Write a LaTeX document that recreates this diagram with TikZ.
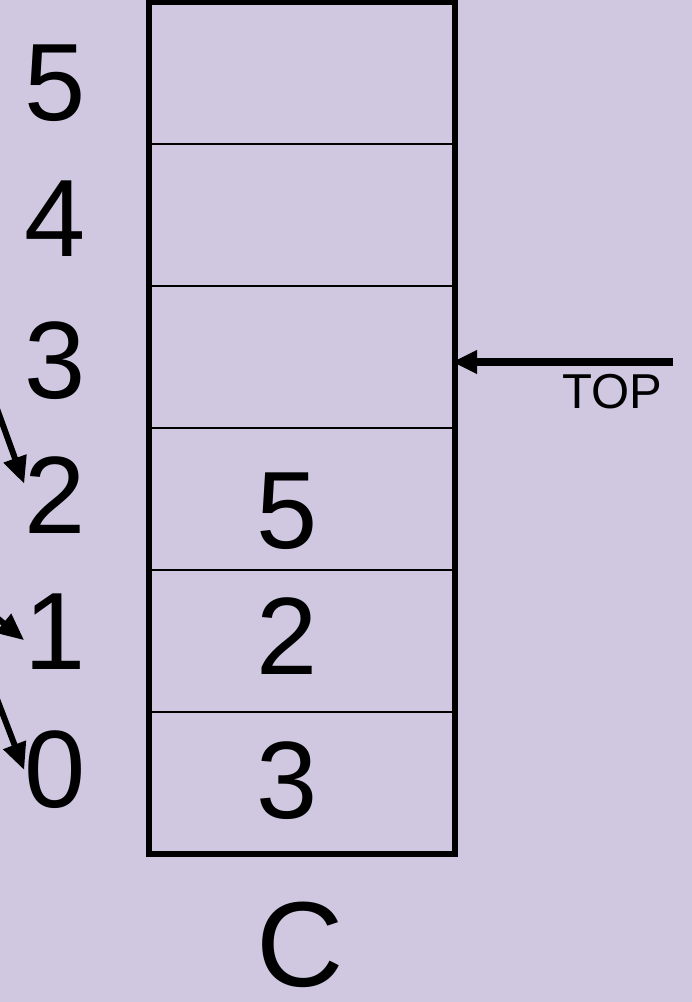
\documentclass[tikz,border=0pt]{standalone}
\usepackage{fontspec}
\setmainfont{Liberation Sans}
\usetikzlibrary{arrows.meta}
\usetikzlibrary{positioning}
\definecolor{slidebg}{RGB}{207,200,224}

\tikzset{
	cell/.style={draw, line width=2pt, minimum width=306pt, minimum height=142pt, inner sep=0pt, outer sep=0pt},
	bignum/.style={inner sep=0pt, font=\fontsize{110}{110}\selectfont},
	pointer/.style={line width=6pt, -{Triangle[length=27pt,width=23pt]}},
}

\begin{document}
\begin{tikzpicture}[x=1pt, y=-1pt]
		\fill[slidebg] (0,0) rectangle (692,1002);
		\useasboundingbox (0,0) rectangle (692,1002);
		% the array cells, bottom to top
		\foreach \i/\y in {0/783,1/641,2/499,3/357,4/215,5/73}
		{
			\node[cell] (c\i) at (302,\y) {};
		}
		\draw[line width=6pt] (c5.north west) rectangle (c0.south east);
		% indices
		\foreach \i/\y in {0/770,1/632,2/495,3/361,4/219,5/83}
		{
			\node[bignum] (i\i) at (55,\y) {\i};
		}
		% stored values
		\node[bignum] (v0) at (287,781) {3};
		\node[bignum] (v1) at (287,636) {2};
		\node[bignum] (v2) at (287,511) {5};
		\node[inner sep=0pt, font=\fontsize{121}{121}\selectfont] (cname) at (300,945) {C};
		
		\coordinate (topstart) at (673,362);
		\draw[pointer, line width=8pt, -{Triangle[length=25pt,width=22pt]}, shorten >=-3pt] (topstart) -- (topstart -| c3.east);
		\node[inner sep=0pt, font=\fontsize{49}{49}\selectfont] (toplbl) at (612,392) {TOP};
		
		\coordinate (from2) at (-8,395);
		\coordinate (from1) at (-15,608);
		\coordinate (from0) at (-8,686);
		\draw[pointer] (from2) -- (i2.160);
		\draw[pointer] (from1) -- (i1.195);
		\draw[pointer] (from0) -- (i0.west);
	\end{tikzpicture}
\end{document}
